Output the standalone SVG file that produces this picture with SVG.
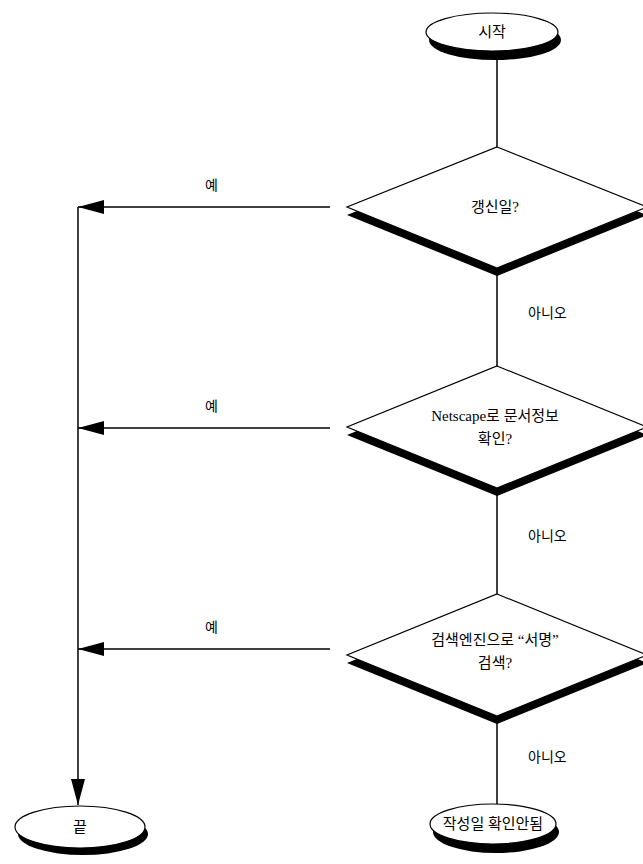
<svg xmlns="http://www.w3.org/2000/svg" width="643" height="864" viewBox="0 0 643 864">
<defs>
<style>
.sh{fill:#000}
.fg{fill:#fff;stroke:#000;stroke-width:1.2}
.ln{stroke:#000;stroke-width:1.5;fill:none}
.t{font-family:"Liberation Serif","Noto Sans CJK KR",serif;font-size:15px;fill:#000;text-anchor:middle}
.lb{font-family:"Liberation Serif","Noto Sans CJK KR",serif;font-size:14px;fill:#000}
</style>
<marker id="ah" viewBox="0 0 26 14" refX="26" refY="7" markerWidth="26" markerHeight="14" markerUnits="userSpaceOnUse" orient="auto">
<path d="M0,0 L26,7 L0,14 Z" fill="#000"/>
</marker>
</defs>
<rect width="643" height="864" fill="#fff"/>
<g id="connectors">
<line class="ln" x1="497" y1="58" x2="497" y2="150"/>
<line class="ln" x1="497" y1="270" x2="497" y2="368"/>
<line class="ln" x1="497" y1="492" x2="497" y2="594"/>
<line class="ln" x1="497" y1="716" x2="497" y2="804"/>
<line class="ln" x1="330" y1="207" x2="78" y2="207" marker-end="url(#ah)"/>
<line class="ln" x1="330" y1="428" x2="78" y2="428" marker-end="url(#ah)"/>
<line class="ln" x1="330" y1="649" x2="78" y2="649" marker-end="url(#ah)"/>
<line class="ln" x1="78" y1="207" x2="78" y2="805" marker-end="url(#ah)"/>
<text class="lb" x="205" y="190">예</text>
<text class="lb" x="205" y="411">예</text>
<text class="lb" x="205" y="632">예</text>
<text class="lb" x="528" y="318">아니오</text>
<text class="lb" x="528" y="541">아니오</text>
<text class="lb" x="528" y="762">아니오</text>
</g>
<g id="start">
<ellipse class="sh" cx="495" cy="40" rx="66" ry="20"/>
<ellipse class="fg" cx="492" cy="32" rx="66" ry="19"/>
<text class="t" x="492" y="37">시작</text>
</g>
<g id="d1">
<polygon class="sh" points="497,155 647,215 497,276 347,215"/>
<polygon class="fg" points="497,147 647,207 497,268 347,207"/>
<text class="t" x="495" y="212">갱신일?</text>
</g>
<g id="d2">
<polygon class="sh" points="497,374 647,435 497,496 347,435"/>
<polygon class="fg" points="497,366 647,427 497,488 347,427"/>
<text class="t" x="495" y="421">Netscape로 문서정보</text>
<text class="t" x="495" y="444">확인?</text>
</g>
<g id="d3">
<polygon class="sh" points="497,602 647,663 497,724 347,663"/>
<polygon class="fg" points="497,594 647,655 497,716 347,655"/>
<text class="t" x="495" y="645">검색엔진으로 “서명”</text>
<text class="t" x="495" y="668">검색?</text>
</g>
<g id="end">
<ellipse class="sh" cx="83" cy="834" rx="65" ry="21"/>
<ellipse class="fg" cx="80" cy="827" rx="65" ry="21"/>
<text class="t" x="80" y="832">끝</text>
</g>
<g id="notfound">
<ellipse class="sh" cx="496" cy="832" rx="63" ry="21"/>
<ellipse class="fg" cx="493" cy="824" rx="63" ry="20"/>
<text class="t" x="493" y="829">작성일 확인안됨</text>
</g>
</svg>
